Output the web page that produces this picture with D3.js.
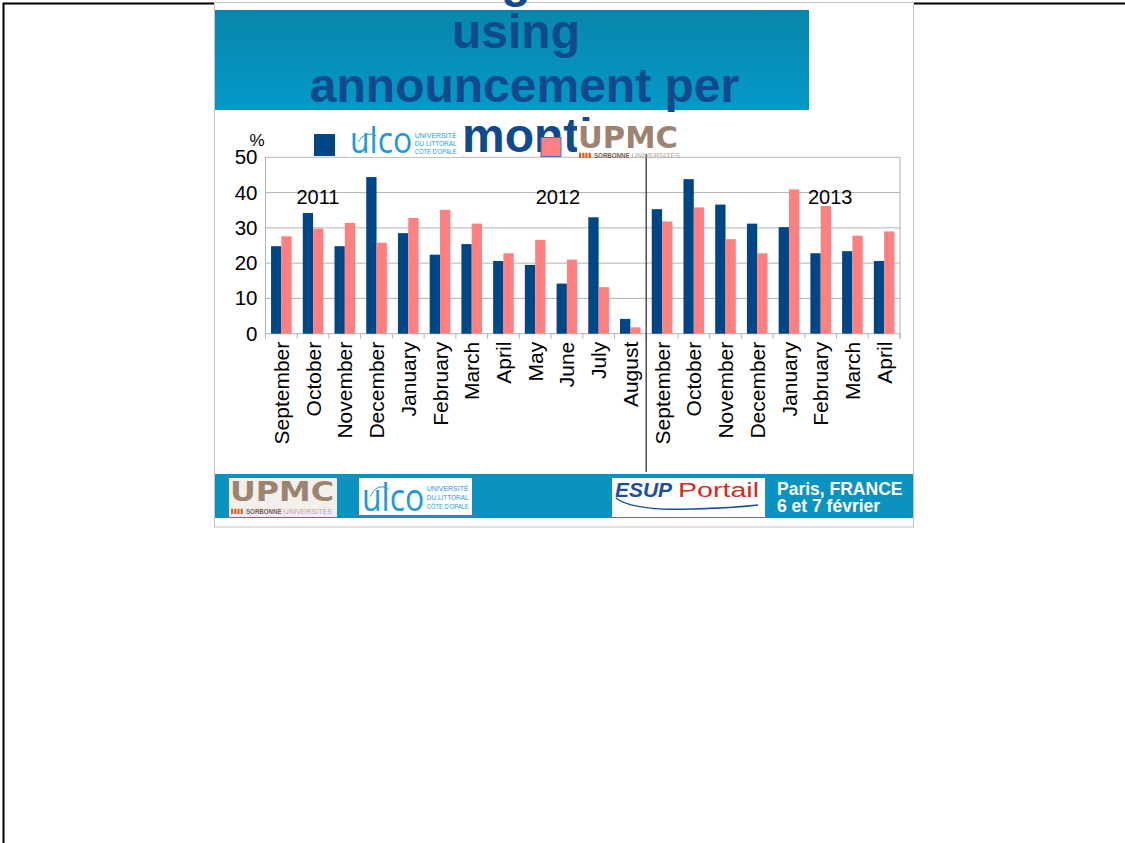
<!DOCTYPE html>
<html><head><meta charset="utf-8">
<script src="https://cdn.jsdelivr.net/npm/d3@7"></script>
<style>html,body{margin:0;padding:0;background:#fff}svg{display:block}</style>
</head><body>
<script>
// ---- data ----
const months = ["September","October","November","December","January","February","March","April","May","June","July","August","September","October","November","December","January","February","March","April"];
const ulco = [24.8,34.2,24.8,44.4,28.5,22.4,25.4,20.6,19.5,14.2,33.0,4.2,35.3,43.8,36.6,31.2,30.2,22.8,23.4,20.6];
const upmc = [27.6,29.8,31.4,25.8,32.8,35.1,31.2,22.8,26.6,21.0,13.2,1.8,31.8,35.8,26.8,22.8,40.9,36.2,27.8,29.0];
const seriesKeys = ["ulco","upmc"];
const yTicks = [0,10,20,30,40,50];
const yearLabels = ["2011","2012","2013"];
const yearPos = [1.655, 9.22, 17.8];   // position in category units
const titleLines = ["g","using","announcement per","month"];
const footerLines = ["Paris, FRANCE","6 et 7 février"];

// ---- layout ----
const W = 1125, H = 843;
const FONT = "'Liberation Sans', Arial, sans-serif";
const svg = d3.select("body").append("svg").attr("width", W).attr("height", H);

const defs = svg.append("defs");
const g1 = defs.append("linearGradient").attr("id","banner").attr("x1",0).attr("y1",0).attr("x2",0).attr("y2",1);
g1.append("stop").attr("offset","0%").attr("stop-color","#0a86ab");
g1.append("stop").attr("offset","100%").attr("stop-color","#0399c9");

// outer frame
svg.append("path").attr("d","M1126,3.5 H3.5 V844").attr("fill","none").attr("stroke","#000").attr("stroke-width",2);

// slide
svg.append("rect").attr("x",214.5).attr("y",2.5).attr("width",699).attr("height",524.5)
  .attr("fill","#fff").attr("stroke","#c4c4c4").attr("stroke-width",1);

// title banner
svg.append("rect").attr("x",215).attr("y",10).attr("width",594).attr("height",100).attr("fill","url(#banner)");

// plot scales
const x0 = 265.5, x1 = 900;
const x = d3.scaleBand().domain(d3.range(months.length)).range([x0, x1]).paddingInner(0.35).paddingOuter(0.175);
const xs = d3.scaleBand().domain(seriesKeys).range([0, x.bandwidth()]);
const y = d3.scaleLinear().domain([0, 50]).range([333.7, 157.3]);
const step = x.step();
const colors = {ulco:"#004586", upmc:"#ff8080"};

// gridlines
svg.append("g").selectAll("line").data(yTicks).join("line")
  .attr("x1", x0).attr("x2", x1).attr("y1", d => y(d)).attr("y2", d => y(d))
  .attr("stroke","#b3b3b3").attr("stroke-width",1);
svg.append("line").attr("x1",x0).attr("x2",x0).attr("y1",y(50)).attr("y2",y(0)+5).attr("stroke","#b3b3b3");
svg.append("line").attr("x1",x1).attr("x2",x1).attr("y1",y(50)).attr("y2",y(0)+5).attr("stroke","#b3b3b3");
svg.append("g").selectAll("line").data(d3.range(months.length+1)).join("line")
  .attr("x1", i => x0 + i*step).attr("x2", i => x0 + i*step)
  .attr("y1", y(0)).attr("y2", y(0)+5).attr("stroke","#b3b3b3");

// title text (behind legend)
const tg = svg.append("g").attr("font-family", FONT).attr("font-weight","bold").attr("font-size",48).attr("fill","#0e4a8c");
tg.append("text").attr("x",516).attr("y",-3).attr("text-anchor","middle").text(titleLines[0]);
tg.append("text").attr("x",516).attr("y",48).attr("text-anchor","middle").text(titleLines[1]);
tg.append("text").attr("x",524.5).attr("y",102).attr("text-anchor","middle").text(titleLines[2]);
tg.append("text").attr("x",462).attr("y",152).attr("text-anchor","start").text(titleLines[3]);

// bars
svg.append("g").selectAll("g").data(d3.range(months.length)).join("g")
  .attr("transform", i => `translate(${x(i)},0)`)
  .selectAll("rect").data(i => [{k:"ulco", v:ulco[i]}, {k:"upmc", v:upmc[i]}]).join("rect")
  .attr("x", d => xs(d.k)).attr("width", xs.bandwidth())
  .attr("y", d => y(d.v)).attr("height", d => y(0) - y(d.v))
  .attr("fill", d => colors[d.k]);

// y axis labels
const ya = svg.append("g").attr("transform",`translate(${x0-8},0)`)
  .call(d3.axisLeft(y).tickValues(yTicks).tickSize(0).tickPadding(0));
ya.select(".domain").remove();
ya.selectAll("text").attr("font-family",FONT).attr("font-size",20.5).attr("fill","#000");
svg.append("text").attr("x",257).attr("y",146).attr("text-anchor","middle")
  .attr("font-family",FONT).attr("font-size",17).text("%");

// x axis labels
const xa = svg.append("g").attr("transform",`translate(0,${y(0)})`)
  .call(d3.axisBottom(x).tickFormat(i => months[i]).tickSize(0));
xa.select(".domain").remove();
xa.selectAll("text").attr("font-family",FONT).attr("font-size",21).attr("fill","#000")
  .attr("transform","rotate(-90)").attr("x",-8).attr("y",0).attr("dy","0.36em").attr("text-anchor","end");

// year labels
svg.append("g").selectAll("text").data(yearLabels).join("text")
  .attr("x",(d,i) => x0 + yearPos[i]*step).attr("y",204).attr("text-anchor","middle")
  .attr("font-family",FONT).attr("font-size",20).attr("fill","#000").text(d => d);

// separator
svg.append("line").attr("x1",x0+12*step).attr("x2",x0+12*step).attr("y1",152).attr("y2",472)
  .attr("stroke","#333").attr("stroke-width",1.3);

// ---- logo helpers ----
function ulcoLogo(gx, gy, w, h, big, small) {
  const g = svg.append("g").attr("transform",`translate(${gx},${gy})`);
  g.append("rect").attr("width",w).attr("height",h).attr("fill","#fff");
  g.append("text").attr("x",3).attr("y",h-4).attr("font-family","'Open Sans', 'DejaVu Sans', sans-serif")
    .attr("font-weight",400).attr("font-size",big).attr("fill","#1e9ad6")
    .attr("textLength", w*0.55).attr("lengthAdjust","spacingAndGlyphs").text("ulco");
  g.append("path").attr("d",`M${w*0.1},${h*0.5} q${w*0.06},${-h*0.4} ${w*0.16},${-h*0.2}`)
    .attr("fill","none").attr("stroke","#1e9ad6").attr("stroke-width",1);
  ["UNIVERSITÉ","DU LITTORAL","CÔTE D'OPALE"].forEach((t,i) => {
    g.append("text").attr("x",w*0.6).attr("y",h*0.36 + i*small*1.18).attr("font-family",FONT)
      .attr("font-size",small).attr("fill","#1e9ad6").attr("textLength",w*0.37).attr("lengthAdjust","spacingAndGlyphs").text(t);
  });
}
function upmcLogo(gx, gy, w, h, bg, capY, fs, tl, subY, subFs) {
  const g = svg.append("g").attr("transform",`translate(${gx},${gy})`);
  g.append("rect").attr("width",w).attr("height",h).attr("fill",bg);
  g.append("text").attr("x",1).attr("y",capY).attr("font-family","'DejaVu Sans', sans-serif").attr("font-weight","bold")
    .attr("font-size",fs).attr("fill","#9c8471").attr("textLength",tl).attr("lengthAdjust","spacingAndGlyphs").text("UPMC");
  for (let i=0;i<4;i++) g.append("rect").attr("x",2+i*3.2).attr("y",subY-subFs*0.75).attr("width",2.2).attr("height",subFs*0.75).attr("fill","#e0601c");
  g.append("text").attr("x",17).attr("y",subY).attr("font-family",FONT).attr("font-weight","bold")
    .attr("font-size",subFs).attr("fill","#7b5d46").attr("textLength",w*0.33).attr("lengthAdjust","spacingAndGlyphs").text("SORBONNE");
  g.append("text").attr("x",19+w*0.33).attr("y",subY).attr("font-family",FONT)
    .attr("font-size",subFs).attr("fill","#b9a594").attr("textLength",w*0.45).attr("lengthAdjust","spacingAndGlyphs").text("UNIVERSITÉS");
}

// legend
svg.append("rect").attr("x",314).attr("y",134).attr("width",21).attr("height",22).attr("fill",colors.ulco);
ulcoLogo(347, 127, 113, 30, 36, 7);
svg.append("rect").attr("x",541).attr("y",137.5).attr("width",20).attr("height",19).attr("fill",colors.upmc)
  .attr("stroke","#4d6bb0").attr("stroke-width",1);
upmcLogo(577, 121, 108, 33, "#fff", 27, 31, 100, 37, 7);

// footer
svg.append("rect").attr("x",215).attr("y",474).attr("width",698).attr("height",44).attr("fill","#0a93c0");
upmcLogo(229, 478, 108, 39, "#f3f0ec", 23, 27, 104, 36, 7);
ulcoLogo(359, 478, 113, 37, 38, 7.5);
const es = svg.append("g").attr("transform","translate(612,478)");
es.append("rect").attr("width",153).attr("height",39).attr("fill","#fff");
es.append("text").attr("x",3).attr("y",19).attr("font-family",FONT).attr("font-weight","bold").attr("font-style","italic")
  .attr("font-size",20).attr("fill","#1b4f9d").attr("textLength",57).attr("lengthAdjust","spacingAndGlyphs").text("ESUP");
es.append("text").attr("x",66).attr("y",19).attr("font-family",FONT).attr("font-size",20).attr("fill","#d62a1f")
  .attr("textLength",81).attr("lengthAdjust","spacingAndGlyphs").text("Portail");
es.append("path").attr("d","M4,20 Q20,33 80,31 Q120,30 146,27").attr("fill","none").attr("stroke","#1b4f9d").attr("stroke-width",1.5);
svg.append("g").selectAll("text").data(footerLines).join("text")
  .attr("x",777).attr("y",(d,i) => 495 + i*17).attr("font-family",FONT).attr("font-weight","bold")
  .attr("font-size",17.5).attr("fill","#fff").text(d => d);
</script>
</body></html>
